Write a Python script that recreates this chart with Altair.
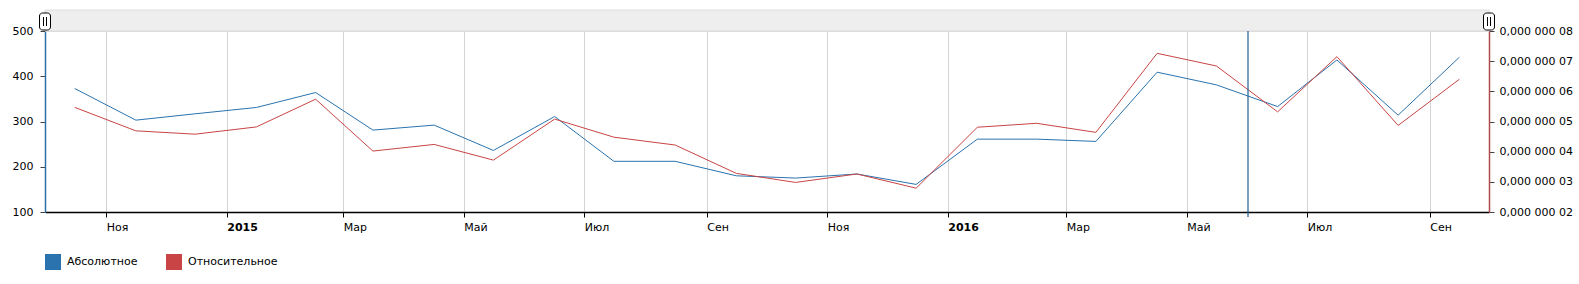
import altair as alt
import pandas as pd

# ---- data ----
months = ["2014-10-16", "2014-11-16", "2014-12-16", "2015-01-16", "2015-02-15", "2015-03-16",
          "2015-04-16", "2015-05-16", "2015-06-16", "2015-07-16", "2015-08-16", "2015-09-16",
          "2015-10-16", "2015-11-16", "2015-12-16", "2016-01-16", "2016-02-15", "2016-03-16",
          "2016-04-16", "2016-05-16", "2016-06-16", "2016-07-16", "2016-08-16", "2016-09-16"]
absolute = [373, 303, 317, 331, 364, 281, 292, 236, 311, 212, 212, 180,
            175, 184, 161, 261, 261, 256, 409, 381, 333, 436, 314, 442]
relative = [5.47e-8, 4.69e-8, 4.58e-8, 4.82e-8, 5.74e-8, 4.02e-8, 4.24e-8, 3.72e-8,
            5.08e-8, 4.48e-8, 4.22e-8, 3.28e-8, 2.98e-8, 3.26e-8, 2.79e-8, 4.81e-8,
            4.94e-8, 4.64e-8, 7.26e-8, 6.84e-8, 5.32e-8, 7.15e-8, 4.87e-8, 6.40e-8]
series = ["Абсолютное", "Относительное"]
colors = ["#2a73ae", "#c94444"]
month_names = ["Янв", "Фев", "Мар", "Апр", "Май", "Июн", "Июл", "Авг", "Сен", "Окт", "Ноя", "Дек"]
x_ticks = [(2014, 11), (2015, 1), (2015, 3), (2015, 5), (2015, 7), (2015, 9),
           (2015, 11), (2016, 1), (2016, 3), (2016, 5), (2016, 7), (2016, 9)]
left_ticks = [100, 200, 300, 400, 500]
right_ticks = [2e-8, 3e-8, 4e-8, 5e-8, 6e-8, 7e-8, 8e-8]
cursor_date = ["2016-06-01"]

df = pd.DataFrame({"date": pd.to_datetime(months), "abs": absolute, "rel": relative})
cur = pd.DataFrame({"date": pd.to_datetime(cursor_date)})

W, H = 1444, 181
FONT = "DejaVu Sans"

xscale = alt.Scale(domain=[alt.DateTime(year=2014, month=10, date=1),
                           alt.DateTime(year=2016, month=10, date=1)])
names_js = "[" + ",".join("'%s'" % m for m in month_names) + "]"
xaxis = alt.Axis(
    values=[alt.DateTime(year=y, month=m, date=1) for y, m in x_ticks],
    title=None, grid=True, gridColor="#d4d4d4", gridWidth=1,
    domainColor="#000", domainWidth=1.5, tickColor="#000", tickSize=5,
    labelAlign="left", labelPadding=4, labelFont=FONT, labelFontSize=11, labelColor="#000",
    labelExpr="month(datum.value)==0 ? timeFormat(datum.value, '%Y') : " + names_js + "[month(datum.value)]",
    labelFontWeight={"condition": {"test": "month(datum.value)==0", "value": "bold"}, "value": "normal"},
)

X = alt.X("date:T", scale=xscale, axis=xaxis)

COLOR = alt.Color(
    "series:N",
    scale=alt.Scale(domain=series, range=colors),
    legend=alt.Legend(orient="none", legendX=0, legendY=223, direction="horizontal", title=None,
                      symbolType="square", symbolSize=64, symbolStrokeWidth=8,
                      labelFont=FONT, labelFontSize=11, labelColor="#000",
                      columnPadding=16, labelOffset=6),
)

blue = alt.Chart(df).transform_calculate(series="'%s'" % series[0]).mark_line(strokeWidth=1).encode(
    x=X,
    y=alt.Y("abs:Q", scale=alt.Scale(domain=[100, 500], nice=False),
            axis=alt.Axis(orient="left", values=left_ticks, title=None, grid=False,
                          domainColor="#2a6fa8", domainWidth=1.5, tickColor="#444", tickSize=5,
                          labelPadding=7, labelFont=FONT, labelFontSize=11, labelColor="#000")),
    color=COLOR,
)

red = alt.Chart(df).transform_calculate(series="'%s'" % series[1]).mark_line(strokeWidth=1).encode(
    x=X,
    y=alt.Y("rel:Q", scale=alt.Scale(domain=[2e-8, 8e-8], nice=False, zero=False),
            axis=alt.Axis(orient="right", values=right_ticks, title=None, grid=False,
                          domainColor="#b04a48", domainWidth=1.5, tickColor="#444", tickSize=5,
                          labelPadding=5, labelFont=FONT, labelFontSize=11, labelColor="#000",
                          labelExpr="'0,000 000 0' + round(datum.value * 1e8)")),
    color=COLOR,
)

cursor = alt.Chart(cur).mark_rule(color="#1f5f96", strokeWidth=1.2).encode(
    x=X,
    y=alt.value(0), y2=alt.value(H + 5),
)

band = alt.Chart().mark_rect(fill="#eeeeee", stroke="#dcdcdc", strokeWidth=1).encode(
    x=alt.value(0), x2=alt.value(W), y=alt.value(-21), y2=alt.value(0))


def handle(cx):
    box = alt.Chart().mark_rect(fill="white", stroke="#000", strokeWidth=1, cornerRadius=3).encode(
        x=alt.value(cx - 5.5), x2=alt.value(cx + 5.5), y=alt.value(-18), y2=alt.value(-1))
    l1 = alt.Chart().mark_rule(color="#000", strokeWidth=1).encode(
        x=alt.value(cx - 1.5), y=alt.value(-14), y2=alt.value(-5))
    l2 = alt.Chart().mark_rule(color="#000", strokeWidth=1).encode(
        x=alt.value(cx + 1.5), y=alt.value(-14), y2=alt.value(-5))
    return [box, l1, l2]


layers = [band, blue, red, cursor] + handle(0) + handle(W)

chart = alt.layer(*layers).resolve_scale(y="independent").properties(
    width=W, height=H,
    autosize=alt.AutoSizeParams(type="none"),
    padding={"left": 45, "top": 31, "right": 90, "bottom": 72},
).configure_view(stroke=None).configure(background="white")

chart.save("out.html", embed_options={"renderer": "svg", "actions": False})
